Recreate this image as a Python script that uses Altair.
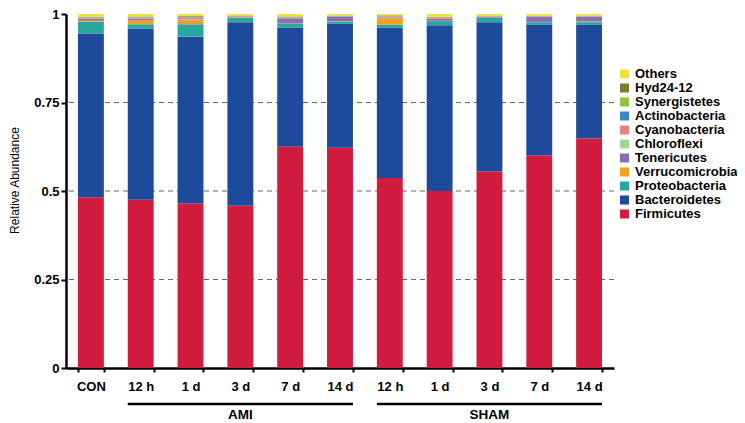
import altair as alt
import pandas as pd

# ---- data ----
samples = ["CON", "AMI 12 h", "AMI 1 d", "AMI 3 d", "AMI 7 d", "AMI 14 d",
           "SHAM 12 h", "SHAM 1 d", "SHAM 3 d", "SHAM 7 d", "SHAM 14 d"]
groups = ["AMI", "SHAM"]

# stacking order: bottom -> top
phyla = ["Firmicutes", "Bacteroidetes", "Proteobacteria", "Verrucomicrobia",
         "Tenericutes", "Chloroflexi", "Cyanobacteria", "Actinobacteria",
         "Synergistetes", "Hyd24-12", "Others"]

firmicutes      = [0.482, 0.475, 0.465, 0.458, 0.625, 0.622, 0.537, 0.500, 0.555, 0.600, 0.648]
bacteroidetes   = [0.463, 0.484, 0.471, 0.519, 0.336, 0.350, 0.424, 0.468, 0.422, 0.370, 0.322]
proteobacteria  = [0.033, 0.012, 0.035, 0.012, 0.011, 0.007, 0.009, 0.012, 0.012, 0.007, 0.007]
verrucomicrobia = [0.003, 0.011, 0.011, 0.001, 0.001, 0.001, 0.018, 0.001, 0.001, 0.0005, 0.002]
tenericutes     = [0.005, 0.004, 0.002, 0.001, 0.015, 0.013, 0.002, 0.005, 0.002, 0.015, 0.013]
chloroflexi     = [0.001, 0.001, 0.001, 0.0005, 0.001, 0.0005, 0.0005, 0.0005, 0.0005, 0.0005, 0.0005]
cyanobacteria   = [0.002, 0.003, 0.005, 0.002, 0.001, 0.0005, 0.003, 0.003, 0.0015, 0.0005, 0.0005]
actinobacteria  = [0.001, 0.001, 0.001, 0.0005, 0.001, 0.0005, 0.0005, 0.0005, 0.0005, 0.0005, 0.0005]
synergistetes   = [0.001, 0.001, 0.001, 0.0005, 0.001, 0.0005, 0.0005, 0.0005, 0.0005, 0.0005, 0.0005]
hyd24_12        = [0.001, 0.001, 0.002, 0.001, 0.001, 0.0005, 0.0015, 0.0015, 0.0005, 0.0005, 0.001]
others          = [0.008, 0.007, 0.006, 0.0045, 0.007, 0.0045, 0.004, 0.008, 0.0045, 0.005, 0.005]

series = [firmicutes, bacteroidetes, proteobacteria, verrucomicrobia, tenericutes,
          chloroflexi, cyanobacteria, actinobacteria, synergistetes, hyd24_12, others]

colors = {
    "Others": "#EEE43C",
    "Hyd24-12": "#7E7A2A",
    "Synergistetes": "#8CC63F",
    "Actinobacteria": "#3C88C6",
    "Cyanobacteria": "#E8847F",
    "Chloroflexi": "#A2D39B",
    "Tenericutes": "#8A6DB3",
    "Verrucomicrobia": "#F3A01F",
    "Proteobacteria": "#27A79D",
    "Bacteroidetes": "#1E4A9C",
    "Firmicutes": "#D11C3E",
}

y_ticks = [0, 0.25, 0.5, 0.75, 1]
grid_values = [0.25, 0.5, 0.75]

# ---- tables ----
rows = []
for rank, (name, vals) in enumerate(zip(phyla, series)):
    for s, v in zip(samples, vals):
        rows.append({"sample": s, "phylum": name, "value": v, "rank": rank})
df = pd.DataFrame(rows)

bar_pad = 0.24
grp_rows = []
for g in groups:
    idx = [i for i, s in enumerate(samples) if s.startswith(g + " ")]
    start = min(idx) + bar_pad
    end = max(idx) + 1 - bar_pad
    grp_rows.append({"group": g, "start": start, "end": end, "mid": (start + end) / 2})
gdf = pd.DataFrame(grp_rows)

gridf = pd.DataFrame({"v": grid_values})

W, H = 548, 354
TOP = 6
FONT = "Liberation Sans"
legend_order = list(reversed(phyla))

yscale = alt.Scale(domain=[0, 1], nice=False, zero=True)
yaxis = alt.Axis(values=y_ticks, labelExpr="datum.value + ''",
                 grid=False, title="Relative Abundance",
                 labelFont=FONT, labelFontWeight="bold", labelFontSize=13,
                 labelColor="black", labelPadding=2,
                 domainColor="black", domainWidth=2.5,
                 tickColor="black", tickWidth=2, tickSize=5,
                 titleFont=FONT, titleFontSize=12, titleFontWeight="normal",
                 titleColor="black", titleAngle=270, titleX=-52, titleY=166,
                 titleAlign="center", titleBaseline="middle")

grid = alt.Chart(gridf).mark_rule(color="#555555", strokeWidth=0.9, strokeDash=[5, 4]).encode(
    y=alt.Y("v:Q", scale=yscale, axis=yaxis, title="Relative Abundance")
)

bars = alt.Chart(df).mark_bar().encode(
    x=alt.X("sample:N", sort=samples,
            scale=alt.Scale(paddingInner=0.48, paddingOuter=0.24),
            axis=alt.Axis(title=None, labelAngle=0, tickBand="extent",
                          labelExpr="replace(replace(datum.label, 'SHAM ', ''), 'AMI ', '')",
                          labelFont=FONT, labelFontWeight="bold", labelFontSize=13,
                          labelColor="black", labelPadding=8,
                          domainColor="black", domainWidth=2.5,
                          tickColor="black", tickWidth=2, tickSize=4)),
    y=alt.Y("value:Q", stack="zero", scale=yscale, axis=yaxis, title="Relative Abundance"),
    color=alt.Color("phylum:N",
                    scale=alt.Scale(domain=legend_order,
                                    range=[colors[p] for p in legend_order]),
                    legend=alt.Legend(orient="none", legendX=552, legendY=53.5,
                                      title=None, symbolType="square", symbolSize=81,
                                      symbolStrokeWidth=0, padding=0,
                                      labelFont=FONT, labelFontWeight="bold",
                                      labelFontSize=13, labelColor="black",
                                      rowPadding=0, labelOffset=4)),
    order=alt.Order("rank:Q", sort="ascending"),
)

xq = alt.Scale(domain=[0, len(samples)], nice=False, zero=False)

glines = alt.Chart(gdf).mark_rule(color="black", strokeWidth=2.5).encode(
    x=alt.X("start:Q", scale=xq, axis=None),
    x2="end:Q",
    y=alt.value(390),
)

gtext = alt.Chart(gdf).mark_text(font=FONT, fontWeight="bold", fontSize=13.5,
                                 color="black", baseline="alphabetic", align="center").encode(
    x=alt.X("mid:Q", scale=xq, axis=None),
    y=alt.value(405),
    text="group:N",
)

chart = alt.layer(grid, bars, glines, gtext).resolve_scale(x="independent").properties(
    width=W, height=H,
    autosize="none",
    padding={"left": 58, "top": TOP, "right": 123, "bottom": 415 - TOP - H},
).configure_view(stroke=None)

chart.save("out.html", embed_options={"renderer": "svg", "actions": False})
